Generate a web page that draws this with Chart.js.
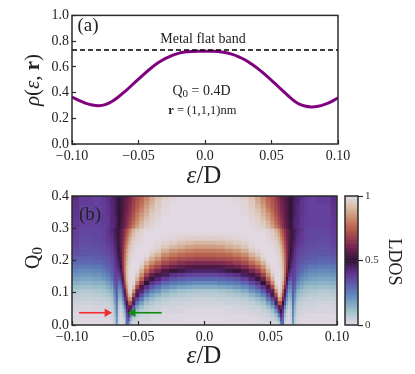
<!DOCTYPE html>
<html><head><meta charset="utf-8">
<style>html,body{margin:0;padding:0;background:#fff;width:415px;height:374px;overflow:hidden}canvas{position:absolute;left:0;top:0}</style>
<script src="https://cdn.jsdelivr.net/npm/chart.js@4"></script>
</head><body>
<canvas id="a" width="415" height="374"></canvas>
<canvas id="b" width="415" height="374"></canvas>
<canvas id="c" width="415" height="374"></canvas>
<script>
const energies=[-0.1,-0.095,-0.09,-0.085,-0.08,-0.075,-0.07,-0.065,-0.06,-0.055,-0.05,-0.045,-0.04,-0.035,-0.03,-0.025,-0.02,-0.015,-0.01,-0.005,0,0.005,0.01,0.015,0.02,0.025,0.03,0.035,0.04,0.045,0.05,0.055,0.06,0.065,0.07,0.075,0.08,0.085,0.09,0.095,0.1];
const rhoValues=[.365,.34,.318,.304,.298,.306,.33,.367,.41,.457,.505,.552,.595,.633,.664,.688,.705,.715,.72,.722,.722,.722,.72,.712,.699,.68,.655,.622,.584,.541,.495,.447,.4,.353,.315,.295,.288,.293,.308,.33,.36];
const flatBand=[0.73,0.73];
const flatBandX=[-0.1,0.1];
const xTickLabels=['\u22120.10','\u22120.05','0.0','0.05','0.10'];
const rhoTickLabels=['0.0','0.2','0.4','0.6','0.8','1.0'];
const qTickLabels=['0.0','0.1','0.2','0.3','0.4'];
const cbarTickLabels=['0','0.5','1'];
const redArrowX=[-0.0947,-0.0735], redArrowY=[0.038,0.038];
const greenArrowX=[-0.0323,-0.0540], greenArrowY=[0.038,0.038];
// half-map columns: |energy| centres
const absE=[0,.006,.012,.018,.024,.03,.036,.04,.044,.048,.051,.054,.056,.0575,.059,.0605,.062,.0635,.065,.0665,.068,.07,.073,.076,.08,.09,.1];
const q0Rows=[.00625,.01875,.03125,.04375,.05625,.06875,.08125,.09375,.10625,.11875,.13125,.14375,.15625,.16875,.18125,.19375,.20625,.21875,.23125,.24375,.25625,.26875,.28125,.29375,.30625,.31875,.33125,.34375,.35625,.36875,.38125,.39375];
const ldosRows=[
[0,0,0,0,0,0,.01,.01,.01,.01,.02,.03,.07,.25,.3,.05,.01,.01,.03,.2,.06,.01,.01,0,0,0,0],
[0,0,0,.01,.01,.01,.01,.01,.02,.02,.04,.07,.15,.36,.3,.07,.02,.01,.04,.22,.07,.02,.01,.01,.01,.01,.01],
[.01,.01,.01,.01,.01,.01,.02,.02,.03,.04,.07,.12,.27,.43,.33,.11,.04,.02,.05,.24,.09,.03,.02,.01,.01,.01,.01],
[.01,.01,.01,.02,.02,.02,.03,.03,.05,.07,.11,.21,.4,.52,.38,.16,.06,.03,.06,.25,.11,.04,.03,.02,.02,.02,.02],
[.02,.02,.02,.02,.03,.03,.04,.05,.07,.11,.18,.33,.56,.6,.44,.22,.1,.05,.08,.27,.13,.05,.04,.03,.03,.02,.03],
[.03,.03,.03,.04,.04,.05,.06,.08,.11,.18,.27,.46,.72,.72,.5,.32,.15,.08,.1,.29,.16,.07,.05,.04,.04,.03,.04],
[.04,.04,.05,.05,.06,.07,.09,.12,.16,.26,.37,.6,.85,.83,.6,.39,.21,.12,.14,.31,.19,.09,.07,.06,.05,.05,.05],
[.07,.07,.07,.08,.09,.11,.14,.18,.24,.35,.47,.72,.94,.9,.68,.46,.27,.16,.17,.33,.22,.12,.09,.08,.07,.06,.07],
[.09,.09,.1,.11,.13,.16,.21,.25,.33,.44,.58,.84,.98,.94,.76,.54,.33,.2,.2,.34,.26,.15,.12,.1,.09,.08,.09],
[.16,.16,.17,.18,.2,.23,.28,.33,.41,.54,.7,.93,1,.96,.83,.62,.4,.25,.24,.35,.3,.19,.16,.13,.12,.11,.12],
[.23,.23,.24,.25,.27,.3,.36,.41,.5,.65,.82,.98,1,.97,.88,.68,.46,.31,.28,.36,.33,.23,.19,.16,.15,.14,.15],
[.3,.3,.31,.32,.34,.38,.44,.49,.59,.75,.9,1,1,.98,.91,.73,.52,.38,.33,.37,.35,.27,.23,.2,.18,.17,.18],
[.36,.36,.37,.39,.41,.46,.53,.58,.68,.83,.95,1,1,.98,.92,.76,.57,.43,.38,.38,.36,.3,.26,.23,.21,.2,.21],
[.45,.45,.46,.48,.51,.55,.61,.67,.77,.89,.98,1,1,.98,.92,.78,.6,.47,.41,.39,.37,.32,.29,.26,.24,.23,.24],
[.54,.54,.55,.57,.59,.63,.69,.75,.84,.94,1,1,.99,.97,.91,.78,.62,.5,.44,.41,.38,.33,.31,.29,.27,.26,.27],
[.62,.62,.63,.64,.67,.7,.77,.83,.9,.98,1,1,.99,.96,.9,.78,.63,.52,.46,.42,.39,.35,.33,.31,.3,.29,.3],
[.69,.69,.7,.71,.73,.77,.84,.89,.96,1,1,1,.98,.95,.88,.77,.64,.54,.48,.44,.4,.36,.34,.33,.32,.31,.32],
[.75,.75,.76,.77,.8,.83,.9,.94,.99,1,1,.99,.97,.94,.87,.76,.64,.55,.49,.45,.41,.37,.35,.34,.33,.33,.34],
[.8,.8,.81,.83,.85,.89,.95,.98,1,1,1,.98,.96,.92,.85,.74,.64,.56,.5,.46,.42,.38,.36,.35,.34,.34,.35],
[.86,.86,.87,.89,.91,.94,.98,1,1,1,.99,.97,.94,.9,.82,.72,.63,.56,.51,.47,.43,.39,.37,.35,.35,.34,.36],
[.91,.91,.92,.93,.95,.97,.99,1,1,.99,.98,.96,.92,.87,.79,.7,.62,.56,.52,.47,.44,.4,.38,.36,.35,.35,.37],
[.96,.96,.96,.97,.98,.99,1,1,1,.99,.97,.94,.9,.84,.76,.68,.61,.56,.52,.48,.45,.41,.39,.37,.36,.35,.37],
[.99,.99,.99,.99,.99,1,1,1,1,.98,.96,.92,.87,.8,.73,.66,.6,.56,.52,.48,.45,.42,.39,.37,.36,.36,.38],
[1,1,1,1,1,1,1,.99,.99,.97,.94,.9,.84,.77,.71,.65,.6,.56,.52,.49,.46,.43,.4,.37,.36,.36,.38],
[1,1,1,1,1,1,.99,.98,.96,.92,.87,.8,.74,.69,.64,.6,.56,.53,.5,.47,.44,.42,.39,.37,.37,.37,.39],
[1,1,1,1,1,1,.99,.97,.94,.9,.84,.77,.71,.67,.63,.59,.56,.53,.5,.47,.44,.43,.39,.38,.37,.37,.39],
[1,1,1,1,1,1,.98,.96,.92,.87,.81,.74,.69,.65,.62,.58,.55,.52,.5,.47,.44,.43,.39,.38,.37,.37,.39],
[1,1,1,1,1,.99,.97,.95,.9,.85,.79,.72,.67,.64,.61,.58,.55,.52,.5,.48,.45,.43,.4,.38,.37,.37,.4],
[1,1,1,1,1,.99,.96,.93,.88,.82,.76,.7,.66,.63,.6,.57,.55,.52,.5,.48,.45,.43,.4,.38,.37,.37,.4],
[1,1,1,1,1,.98,.95,.91,.86,.79,.74,.69,.65,.62,.59,.57,.54,.52,.5,.48,.45,.43,.4,.38,.37,.37,.41],
[1,1,1,1,.99,.98,.94,.89,.84,.77,.73,.68,.64,.61,.59,.56,.54,.52,.5,.48,.45,.44,.4,.38,.37,.38,.41],
[1,1,1,1,.99,.97,.93,.88,.82,.76,.72,.67,.63,.6,.58,.56,.54,.52,.5,.49,.46,.44,.41,.39,.37,.38,.42]
];
const cbarLevels=[.01,.03,.05,.07,.09,.11,.13,.15,.17,.19,.21,.23,.25,.27,.29,.31,.33,.35,.37,.39,.41,.43,.45,.47,.49,.51,.53,.55,.57,.59,.61,.63,.65,.67,.69,.71,.73,.75,.77,.79,.81,.83,.85,.87,.89,.91,.93,.95,.97,.99];
const cmapStops=[[0,226,217,226],[.0625,190,205,214],[.125,150,186,200],[.1875,117,158,192],[.25,94,128,184],[.3125,92,97,173],[.375,100,62,155],[.4375,86,38,118],[.5,47,20,54],[.5625,90,28,72],[.625,125,42,80],[.6875,160,68,78],[.75,184,96,80],[.8125,198,130,100],[.875,210,165,138],[.9375,220,198,185],[1,226,217,226]];

function cmap(v){
  v=Math.max(0,Math.min(1,v));
  for(let i=1;i<cmapStops.length;i++){
    if(v<=cmapStops[i][0]){
      const a=cmapStops[i-1],b=cmapStops[i],t=(v-a[0])/(b[0]-a[0]);
      return `rgb(${[1,2,3].map(k=>Math.round(a[k]+(b[k]-a[k])*t)).join(',')})`;
    }
  }
  return 'rgb(226,217,226)';
}
const SERIF='"Liberation Serif"';
const INK='#2b2b2b';
function rich(ctx,x,y,rot,segs){
  ctx.save();ctx.translate(x,y);ctx.rotate(rot);ctx.textBaseline='alphabetic';ctx.textAlign='left';ctx.fillStyle='#222';
  let w=0;segs.forEach(s=>{ctx.font=s.f;w+=ctx.measureText(s.t).width;});
  let p=-w/2;segs.forEach(s=>{ctx.font=s.f;ctx.fillText(s.t,p,s.dy||0);p+=ctx.measureText(s.t).width;});
  ctx.restore();
}
const frame={id:'frame',afterDraw(ch){const c=ch.ctx,a=ch.chartArea;c.save();c.strokeStyle=INK;c.lineWidth=1.5;c.strokeRect(a.left,a.top,a.right-a.left,a.bottom-a.top);c.restore();}};
function textsPlugin(fn){return {id:'texts',afterDraw(ch){fn(ch,ch.ctx);}};}
function f(size,style){return `${style||''} ${size}px ${SERIF}`;}
function tickFont(s){return {family:SERIF,size:s||14};}
function xAxis(h){return {type:'linear',min:-0.1,max:0.1,afterBuildTicks(s){s.ticks=[-0.1,-0.05,0,0.05,0.1].map(v=>({value:v}));},
  grid:{drawOnChartArea:false,drawTicks:true,tickLength:-4,tickWidth:1.2,tickColor:INK,z:1},border:{display:false},
  ticks:{autoSkip:false,maxRotation:0,padding:8,color:'#222',font:tickFont(),callback:(v,i)=>xTickLabels[i]},afterFit(s){s.height=h;}};}
function yAxis(max,labels,w){const n=labels.length-1;return {type:'linear',offset:false,min:0,max,afterBuildTicks(s){s.ticks=labels.map((_,i)=>({value:max*i/n}));},
  grid:{offset:false,drawOnChartArea:false,drawTicks:true,tickLength:-4,tickWidth:1.2,tickColor:INK,z:1},border:{display:false},
  ticks:{autoSkip:false,padding:7,color:'#222',font:tickFont(),callback:(v,i)=>labels[i]},afterFit(s){s.width=w;}};}

new Chart(document.getElementById('a'),{
  type:'line',
  data:{datasets:[
    {data:flatBandX.map((x,i)=>({x,y:flatBand[i]})),borderColor:'#000',borderWidth:1.5,borderDash:[5,3],pointRadius:0},
    {data:energies.map((x,i)=>({x,y:rhoValues[i]})),borderColor:'#800080',borderWidth:3,pointRadius:0,tension:0.4}
  ]},
  options:{responsive:false,animation:false,layout:{padding:{top:15,right:77,left:0,bottom:0}},
    plugins:{legend:{display:false},tooltip:{enabled:false}},
    scales:{x:xAxis(230),y:yAxis(1,rhoTickLabels,72)}},
  plugins:[frame,textsPlugin((ch,c)=>{
    const X=ch.scales.x,Y=ch.scales.y;
    rich(c,X.getPixelForValue(-0.0955)+10,Y.getPixelForValue(0.922)+6,0,[{t:'(a)',f:f(19)}]);
    rich(c,X.getPixelForValue(-0.0015),Y.getPixelForValue(0.814)+4,0,[{t:'Metal flat band',f:f(14)}]);
    rich(c,X.getPixelForValue(-0.0026),Y.getPixelForValue(0.419)+5,0,[{t:'Q',f:f(14)},{t:'0',f:f(11),dy:2},{t:' = 0.4D',f:f(14)}]);
    rich(c,X.getPixelForValue(-0.002),Y.getPixelForValue(0.264)+4,0,[{t:'r',f:f(12.5,'bold')},{t:' = (1,1,1)nm',f:f(12.5)}]);
    rich(c,39,80,-Math.PI/2,[{t:'\u03C1',f:f(21,'italic')},{t:'(',f:f(21)},{t:'\u03B5',f:f(21,'italic')},{t:', ',f:f(21)},{t:'r',f:f(21,'bold')},{t:')',f:f(21)}]);
    rich(c,204,183,0,[{t:'\u03B5',f:f(25,'italic')},{t:'/D',f:f(25)}]);
  })]
});

const heatDatasets=[];
const fullCols=[];
for(let i=absE.length-1;i>0;i--)fullCols.push({x:-absE[i],src:i});
for(let i=0;i<absE.length;i++)fullCols.push({x:absE[i],src:i});
fullCols.forEach((col,j)=>{
  const lo=j===0?-0.1:(fullCols[j-1].x+col.x)/2;
  const hi=j===fullCols.length-1?0.1:(col.x+fullCols[j+1].x)/2;
  heatDatasets.push({
    data:q0Rows.map(q=>({y:q,x:[lo,hi]})),
    backgroundColor:q0Rows.map((q,r)=>cmap(ldosRows[r][col.src])),
    borderWidth:0,barPercentage:1,categoryPercentage:1,grouped:false,order:5
  });
});
const arrow=(xs,ys,color)=>({type:'line',order:1,data:xs.map((x,i)=>({x,y:ys[i]})),borderColor:color,backgroundColor:color,borderWidth:1.6,pointStyle:'triangle',pointRadius:[0,5],pointRotation:xs[1]>xs[0]?90:-90,pointBorderWidth:0});
new Chart(document.getElementById('b'),{
  type:'bar',
  data:{datasets:[...heatDatasets,arrow(redArrowX,redArrowY,'#f03030'),arrow(greenArrowX,greenArrowY,'#0f8a0f')]},
  options:{indexAxis:'y',responsive:false,animation:false,layout:{padding:{top:196,right:78,left:0,bottom:0}},
    plugins:{legend:{display:false},tooltip:{enabled:false}},
    scales:{x:xAxis(49),y:yAxis(0.4,qTickLabels,72)}},
  plugins:[frame,textsPlugin((ch,c)=>{
    const X=ch.scales.x,Y=ch.scales.y;
    rich(c,X.getPixelForValue(-0.0955)+12,Y.getPixelForValue(0.345)+6,0,[{t:'(b)',f:f(19)}]);
    rich(c,39,258,-Math.PI/2,[{t:'Q',f:f(20)},{t:'0',f:f(15),dy:3}]);
    rich(c,204,363,0,[{t:'\u03B5',f:f(25,'italic')},{t:'/D',f:f(25)}]);
  })]
});

new Chart(document.getElementById('c'),{
  type:'bar',
  data:{datasets:[{data:cbarLevels.map(v=>({y:v,x:[0,1]})),backgroundColor:cbarLevels.map(cmap),borderWidth:0,barPercentage:1,categoryPercentage:1}]},
  options:{indexAxis:'y',responsive:false,animation:false,layout:{padding:{top:196,left:345,right:0,bottom:49}},
    plugins:{legend:{display:false},tooltip:{enabled:false}},
    scales:{
      x:{type:'linear',min:0,max:1,display:false},
      y:{type:'linear',offset:false,position:'right',min:0,max:1,afterBuildTicks(s){s.ticks=[0,0.5,1].map(v=>({value:v}));},
        grid:{offset:false,drawOnChartArea:false,tickLength:5,tickWidth:1.2,tickColor:INK},border:{display:false},
        ticks:{padding:2,color:'#333',font:tickFont(11),callback:(v,i)=>cbarTickLabels[i]},
        title:{display:false},afterFit(s){s.width=57;}}
    }},
  plugins:[frame,textsPlugin((ch,c)=>{
    rich(c,389,262,Math.PI/2,[{t:'LDOS',f:f(18)}]);
  })]
});
</script>
</body></html>
